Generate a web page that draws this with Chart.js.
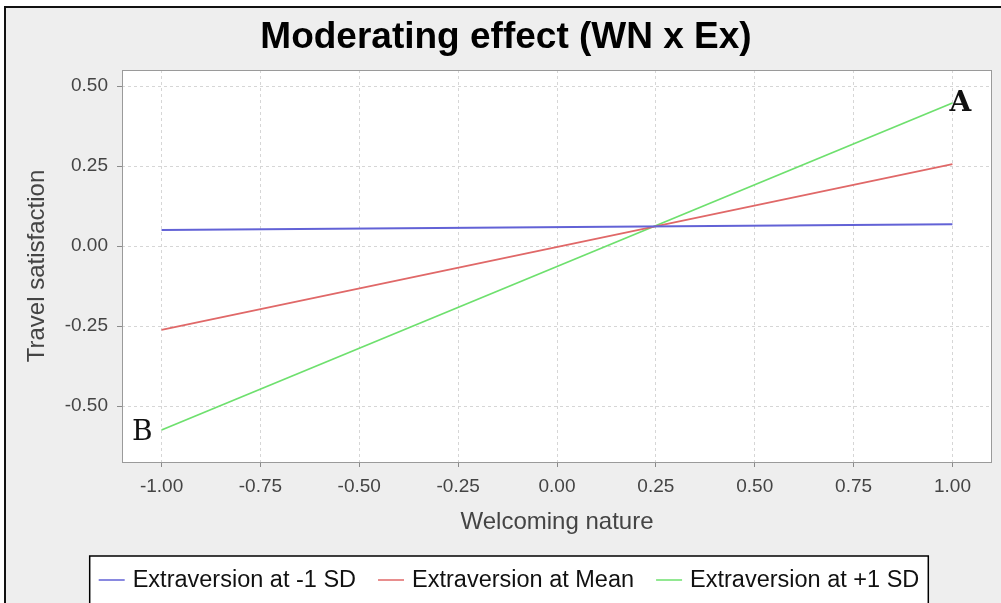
<!DOCTYPE html>
<html lang="en">
<head>
    <meta charset="UTF-8">
    <title>Moderating effect (WN x Ex)</title>
    <style>
        html, body {
            margin: 0;
            padding: 0;
            background-color: #ffffff;
            overflow: hidden;
        }
        .panel {
            position: absolute;
            left: 4px;
            top: 6px;
            width: 1100px;
            height: 700px;
            background-color: #eeeeee;
            border-left: 2px solid #111;
            border-top: 2px solid #111;
        }
        #chart {
            position: absolute;
            left: 0;
            top: 0;
        }
    </style>
    <script src="https://cdn.jsdelivr.net/npm/chart.js"></script>
</head>
<body>
    <div class="panel"></div>
    <canvas id="chart" width="1012" height="603"></canvas>

    <script>
        // values
        const seriesLabels = ['Extraversion at -1 SD', 'Extraversion at Mean', 'Extraversion at +1 SD'];
        const welcomingNature = [-1, 1];
        const lowExtraversion = [0.050, 0.068];
        const meanExtraversion = [-0.262, 0.256];
        const highExtraversion = [-0.575, 0.447];
        const xTicks = [-1, -0.75, -0.5, -0.25, 0, 0.25, 0.5, 0.75, 1];
        const yTicks = [-0.5, -0.25, 0, 0.25, 0.5];
        const cornerLabels = ['B', 'A'];   // start / end of the +1 SD line

        const lineColors = ['#6262d6', '#e06868', '#6ee06e'];
        const sansFont = '"Liberation Sans", Arial, sans-serif';

        function toPoints(values) {
            return welcomingNature.map((x, i) => ({ x: x, y: values[i] }));
        }

        // white plot area + grey frame
        const plotFrame = {
            id: 'plotFrame',
            beforeDraw(chart) {
                const { ctx, chartArea: a } = chart;
                ctx.save();
                ctx.fillStyle = '#ffffff';
                ctx.fillRect(a.left, a.top, a.right - a.left, a.bottom - a.top);
                ctx.restore();
            },
            afterDraw(chart) {
                const { ctx, chartArea: a } = chart;
                ctx.save();
                ctx.strokeStyle = '#9a9a9a';
                ctx.lineWidth = 1;
                ctx.strokeRect(a.left + 0.5, a.top + 0.5, a.right - a.left - 1, a.bottom - a.top);
                ctx.restore();
            }
        };

        // A / B markers at the ends of the +1 SD line
        const cornerNotes = {
            id: 'cornerNotes',
            afterDatasetsDraw(chart) {
                const pts = chart.getDatasetMeta(2).data;
                const ctx = chart.ctx;
                ctx.save();
                ctx.fillStyle = '#111';
                ctx.textBaseline = 'middle';
                ctx.font = '28px "DejaVu Serif", serif';
                ctx.textAlign = 'right';
                ctx.fillText(cornerLabels[0], pts[0].x - 9, pts[0].y + 3);
                ctx.font = 'bold 28px "DejaVu Serif", serif';
                ctx.textAlign = 'left';
                ctx.fillText(cornerLabels[1], pts[1].x - 3, pts[1].y + 1);
                ctx.restore();
            }
        };

        // boxed legend under the axis title
        const legendBox = {
            id: 'legendBox',
            afterDraw(chart) {
                const ctx = chart.ctx;
                const lineLen = 26, gap = 8, itemGap = 22, pad = 9;
                ctx.save();
                ctx.font = '23.5px ' + sansFont;
                const items = chart.data.datasets.map(ds => ({
                    label: ds.label,
                    color: ds.borderColor,
                    w: lineLen + gap + ctx.measureText(ds.label).width
                }));
                const total = items.reduce((s, it) => s + it.w, 0) + itemGap * (items.length - 1) + pad * 2;
                const left = chart.width / 2 + 3 - total / 2;
                const top = 556;
                ctx.fillStyle = '#ffffff';
                ctx.fillRect(left, top, total, 60);
                ctx.strokeStyle = '#000';
                ctx.lineWidth = 1.5;
                ctx.strokeRect(left, top, total, 60);

                let x = left + pad;
                const y = 580;
                ctx.textBaseline = 'middle';
                ctx.textAlign = 'left';
                items.forEach(it => {
                    ctx.strokeStyle = it.color;
                    ctx.lineWidth = 1.5;
                    ctx.beginPath();
                    ctx.moveTo(x, y);
                    ctx.lineTo(x + lineLen, y);
                    ctx.stroke();
                    ctx.fillStyle = '#111';
                    ctx.fillText(it.label, x + lineLen + gap, y + 1);
                    x += it.w + itemGap;
                });
                ctx.restore();
            }
        };

        const ctx = document.getElementById('chart').getContext('2d');

        new Chart(ctx, {
            type: 'line',
            data: {
                datasets: [lowExtraversion, meanExtraversion, highExtraversion].map((values, i) => ({
                    label: seriesLabels[i],
                    data: toPoints(values),
                    borderColor: lineColors[i],
                    borderWidth: 1.8,
                    pointRadius: 0,
                    fill: false,
                    tension: 0
                }))
            },
            options: {
                responsive: false,
                animation: false,
                layout: { padding: { left: 20, right: 20, top: 0, bottom: 0 } },
                plugins: {
                    legend: { display: false },
                    tooltip: { enabled: false },
                    title: {
                        display: true,
                        text: 'Moderating effect (WN x Ex)',
                        color: '#000',
                        font: { family: sansFont, size: 37, weight: 'bold' },
                        padding: { top: 16, bottom: 9.6 }
                    }
                },
                scales: {
                    x: {
                        type: 'linear',
                        min: -1.1,
                        max: 1.1,
                        afterBuildTicks: (scale) => { scale.ticks = xTicks.map(v => ({ value: v })); },
                        afterFit: (scale) => { scale.height = 141; },
                        ticks: {
                            autoSkip: false,
                            maxRotation: 0,
                            padding: 8,
                            color: '#444',
                            font: { family: sansFont, size: 19 },
                            callback: (v) => Number(v).toFixed(2)
                        },
                        grid: {
                            color: '#d6d6d6',
                            lineWidth: 1,
                            tickLength: 5,
                            tickColor: '#8a8a8a',
                            tickBorderDash: []
                        },
                        border: { display: false, dash: [3, 3] },
                        title: {
                            display: true,
                            text: 'Welcoming nature',
                            color: '#444',
                            font: { family: sansFont, size: 24 },
                            padding: { top: 0, bottom: 66.6 }
                        }
                    },
                    y: {
                        type: 'linear',
                        min: -0.675,
                        max: 0.55,
                        afterBuildTicks: (scale) => { scale.ticks = yTicks.map(v => ({ value: v })); },
                        afterFit: (scale) => { scale.width = 102; },
                        ticks: {
                            autoSkip: false,
                            padding: 9,
                            color: '#444',
                            font: { family: sansFont, size: 19 },
                            callback: (v) => Number(v).toFixed(2)
                        },
                        grid: {
                            color: '#d6d6d6',
                            lineWidth: 1,
                            tickLength: 5,
                            tickColor: '#8a8a8a',
                            tickBorderDash: []
                        },
                        border: { display: false, dash: [3, 3] },
                        title: {
                            display: true,
                            text: 'Travel satisfaction',
                            color: '#444',
                            font: { family: sansFont, size: 24 },
                            padding: { top: 3, bottom: 0 }
                        }
                    }
                }
            },
            plugins: [plotFrame, cornerNotes, legendBox]
        });
    </script>
</body>
</html>
